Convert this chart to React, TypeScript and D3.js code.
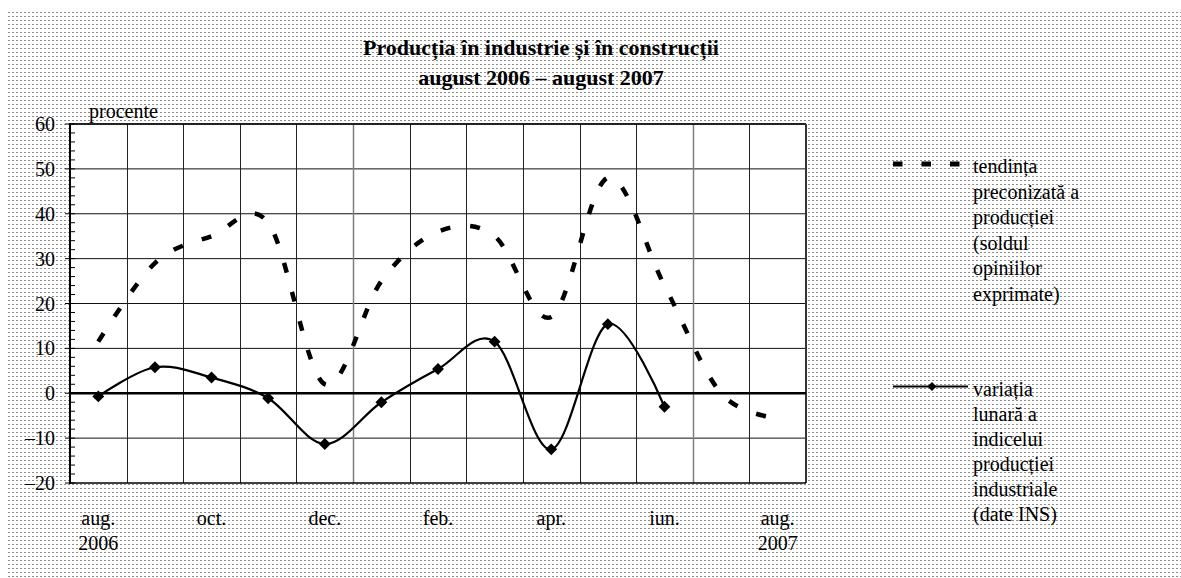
import * as d3 from "d3";
import { useEffect, useRef } from "react";

// luni aug. 2006 - aug. 2007
const months = ["aug.", "sep.", "oct.", "nov.", "dec.", "ian.", "feb.", "mar.", "apr.", "mai", "iun.", "iul.", "aug."];
const monthLabels = ["aug.", "", "oct.", "", "dec.", "", "feb.", "", "apr.", "", "iun.", "", "aug."];
const yearLabels = ["2006", "", "", "", "", "", "", "", "", "", "", "", "2007"];

// tendinta preconizata a productiei (sold opinii)
const trend = [11.5, 29, 35, 38, 2, 25, 36, 35, 17, 48, 24, 0, -5.5];
// variatia lunara a indicelui productiei industriale (INS)
const monthly = [-0.7, 5.8, 3.5, -1.1, -11.3, -2.0, 5.4, 11.5, -12.5, 15.4, -3.0];

const yTicks = [-20, -10, 0, 10, 20, 30, 40, 50, 60];

const titleLines = ["Producția în industrie și în construcții", "august 2006 – august 2007"];
const legendTrend = ["tendința", "preconizată a", "producției", "(soldul", "opiniilor", "exprimate)"];
const legendMonthly = ["variația", "lunară a", "indicelui", "producției", "industriale", "(date INS)"];

function ProductionChart() {
    const ref = useRef<SVGSVGElement>(null);

    useEffect(() => {
        const svg = d3.select(ref.current);
        svg.selectAll("*").remove();

        const width = 1181;
        const height = 578;
        const font = "'Liberation Serif', 'Times New Roman', serif";
        const left = 70, right = 806, top = 124, bottom = 483;

        svg.attr("width", width).attr("height", height);

        // dotted background
        const defs = svg.append("defs");
        const pat = defs
            .append("pattern")
            .attr("id", "dots")
            .attr("patternUnits", "userSpaceOnUse")
            .attr("width", 4)
            .attr("height", 4);
        pat.append("rect").attr("width", 4).attr("height", 4).attr("fill", "#fff");
        pat.append("rect").attr("x", 0).attr("y", 0).attr("width", 2).attr("height", 1).attr("fill", "#8c8c8c");

        svg.append("rect").attr("width", width).attr("height", height).attr("fill", "#fff");
        svg.append("rect")
            .attr("x", 7).attr("y", 9)
            .attr("width", width - 7).attr("height", height - 9)
            .attr("fill", "url(#dots)");

        const x = d3
            .scaleBand<number>()
            .domain(d3.range(months.length))
            .range([left, right]);

        const y = d3.scaleLinear().domain([-20, 60]).range([bottom, top]);

        const cx = (i: number) => (x(i) || 0) + x.bandwidth() / 2;

        // plot area
        svg.append("rect")
            .attr("x", left).attr("y", top)
            .attr("width", right - left).attr("height", bottom - top)
            .attr("fill", "#fff");

        // gridlines
        svg.append("g")
            .selectAll("line")
            .data(yTicks.filter(t => t !== -20 && t !== 0))
            .enter()
            .append("line")
            .attr("x1", left).attr("x2", right)
            .attr("y1", d => y(d)).attr("y2", d => y(d))
            .attr("stroke", "#111")
            .attr("stroke-width", 1);

        svg.append("g")
            .selectAll("line")
            .data(d3.range(1, months.length))
            .enter()
            .append("line")
            .attr("x1", d => Math.round(x(d) || 0) + 0.5)
            .attr("x2", d => Math.round(x(d) || 0) + 0.5)
            .attr("y1", top).attr("y2", bottom)
            .attr("stroke", d => (d === 5 || d === 11 ? "#808080" : "#222"))
            .attr("stroke-width", d => (d === 5 || d === 11 ? 1.5 : 1));

        // frame
        svg.append("line")
            .attr("x1", left).attr("x2", right).attr("y1", top).attr("y2", top)
            .attr("stroke", "#000").attr("stroke-width", 1.5);
        svg.append("line")
            .attr("x1", right).attr("x2", right).attr("y1", top).attr("y2", bottom)
            .attr("stroke", "#333").attr("stroke-width", 2);
        svg.append("line")
            .attr("x1", left).attr("x2", right).attr("y1", bottom).attr("y2", bottom)
            .attr("stroke", "#000").attr("stroke-width", 1.5);

        // zero line
        svg.append("line")
            .attr("x1", left).attr("x2", right)
            .attr("y1", y(0)).attr("y2", y(0))
            .attr("stroke", "#000").attr("stroke-width", 2.5);

        // y axis
        svg.append("line")
            .attr("x1", left).attr("x2", left).attr("y1", top - 1).attr("y2", bottom + 1)
            .attr("stroke", "#000").attr("stroke-width", 2);

        svg.append("g")
            .selectAll("line")
            .data(d3.range(-20, 61, 2))
            .enter()
            .append("line")
            .attr("x1", d => (d % 10 === 0 ? left - 5 : left))
            .attr("x2", left + 5)
            .attr("y1", d => y(d)).attr("y2", d => y(d))
            .attr("stroke", "#000").attr("stroke-width", 1);

        svg.append("g")
            .selectAll("text")
            .data(yTicks)
            .enter()
            .append("text")
            .attr("x", 55)
            .attr("y", d => y(d))
            .attr("dy", "0.35em")
            .attr("text-anchor", "end")
            .style("font-family", font)
            .style("font-size", "20px")
            .text(d => (d < 0 ? "–" + Math.abs(d) : String(d)));

        svg.append("text")
            .attr("x", 89).attr("y", 118)
            .style("font-family", font)
            .style("font-size", "20px")
            .text("procente");

        // x labels
        svg.append("g")
            .selectAll("text")
            .data(monthLabels)
            .enter()
            .append("text")
            .attr("x", (_, i) => cx(i))
            .attr("y", 525)
            .attr("text-anchor", "middle")
            .style("font-family", font)
            .style("font-size", "20px")
            .text(d => d);

        svg.append("g")
            .selectAll("text")
            .data(yearLabels)
            .enter()
            .append("text")
            .attr("x", (_, i) => cx(i))
            .attr("y", 550)
            .attr("text-anchor", "middle")
            .style("font-family", font)
            .style("font-size", "20px")
            .text(d => d);

        // title
        svg.append("g")
            .selectAll("text")
            .data(titleLines)
            .enter()
            .append("text")
            .attr("x", 541)
            .attr("y", (_, i) => 55 + i * 30)
            .attr("text-anchor", "middle")
            .style("font-family", font)
            .style("font-size", "22px")
            .style("font-weight", "bold")
            .text(d => d);

        // series
        const line = d3
            .line<number>()
            .x((_, i) => cx(i))
            .y(d => y(d))
            .curve(d3.curveCatmullRom.alpha(0));

        svg.append("path")
            .datum(trend)
            .attr("d", line)
            .attr("fill", "none")
            .attr("stroke", "#000")
            .attr("stroke-width", 4.5)
            .attr("stroke-dasharray", "10,20");

        svg.append("path")
            .datum(monthly)
            .attr("d", line)
            .attr("fill", "none")
            .attr("stroke", "#000")
            .attr("stroke-width", 2.2);

        const diamond = d3.symbol().type(d3.symbolDiamond2).size(90);

        svg.append("g")
            .selectAll("path")
            .data(monthly)
            .enter()
            .append("path")
            .attr("d", diamond)
            .attr("transform", (d, i) => `translate(${cx(i)},${y(d)})`)
            .attr("fill", "#000");

        // legend
        svg.append("line")
            .attr("x1", 893).attr("x2", 962)
            .attr("y1", 164).attr("y2", 164)
            .attr("stroke", "#000")
            .attr("stroke-width", 5)
            .attr("stroke-dasharray", "9.5,19");

        svg.append("g")
            .selectAll("text")
            .data(legendTrend)
            .enter()
            .append("text")
            .attr("x", 973)
            .attr("y", (_, i) => 173 + i * 25.6)
            .style("font-family", font)
            .style("font-size", "20px")
            .text(d => d);

        svg.append("line")
            .attr("x1", 893).attr("x2", 968)
            .attr("y1", 386.5).attr("y2", 386.5)
            .attr("stroke", "#000")
            .attr("stroke-width", 2);

        svg.append("path")
            .attr("d", d3.symbol().type(d3.symbolDiamond2).size(50))
            .attr("transform", "translate(932,386.5)")
            .attr("fill", "#000");

        svg.append("g")
            .selectAll("text")
            .data(legendMonthly)
            .enter()
            .append("text")
            .attr("x", 973)
            .attr("y", (_, i) => 396 + i * 25)
            .style("font-family", font)
            .style("font-size", "20px")
            .text(d => d);
    }, []);

    return <svg ref={ref} style={{ position: "absolute", left: 0, top: 0, display: "block" }} />;
}

export default function App() {
    return <ProductionChart />;
}
